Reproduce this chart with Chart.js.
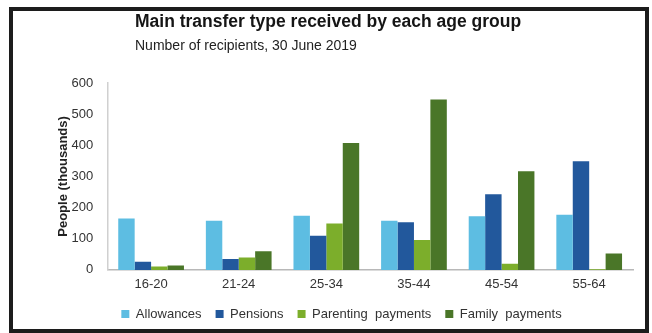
<!DOCTYPE html>
<html>
<head>
<meta charset="utf-8">
<script src="https://cdn.jsdelivr.net/npm/chart.js@4"></script>
<style>
  body { margin: 0; background: #fff; font-family: 'Liberation Sans', Arial, sans-serif; }
  #frame {
    position: absolute; left: 9px; top: 7px;
    width: 632px; height: 318px;
    border: 4px solid #1c1c1c;
    background: #fff;
  }
  .chart_title { position: absolute; left: 135px; top: 13px; font-size: 17.5px; font-weight: bold; line-height: 1; color: #151515; white-space: nowrap; }
  .chart_subtitle { position: absolute; left: 135px; top: 38px; font-size: 14px; line-height: 1; color: #222; white-space: nowrap; }
</style>
</head>
<body>
<div id="frame"><canvas id="transfer_chart"></canvas></div>
<div class="chart_title">Main transfer type received by each age group</div>
<div class="chart_subtitle">Number of recipients, 30 June 2019</div>
<script>
// age groups on the x axis
const age_groups = ['16-20', '21-24', '25-34', '35-44', '45-54', '55-64'];
// people in thousands
const allowances = [165, 158, 174, 158, 172, 177];
const pensions = [26, 35, 110, 153, 243, 349];
const parenting_payments = [11, 40, 149, 96, 20, 2];
const family_payments = [14, 60, 407, 547, 317, 53];
const y_ticks = [0, 100, 200, 300, 400, 500, 600];

const font_family = "'Liberation Sans', Arial, sans-serif";

// wider gaps between legend items without making the legend box taller
const legend_spacing = {
  id: 'legend_spacing',
  afterInit(chart) {
    const legend = chart.legend;
    const fit = legend.fit;
    const draw = legend.draw;
    legend.fit = function () { fit.call(this); this.height -= 6; };
    legend.draw = function () {
      this.ctx.save();
      this.ctx.translate(0, -6);
      draw.call(this);
      this.ctx.restore();
    };
  }
};

let ctx = document.getElementById('transfer_chart').getContext('2d');
let mychart = new Chart(ctx, {
  type: 'bar',
  data: {
    labels: age_groups,
    datasets: [
      { label: 'Allowances', data: allowances, backgroundColor: '#5dbde2' },
      { label: 'Pensions', data: pensions, backgroundColor: '#22589c' },
      { label: 'Parenting  payments', data: parenting_payments, backgroundColor: '#7cae2b' },
      { label: 'Family  payments', data: family_payments, backgroundColor: '#4a7628' }
    ]
  },
  plugins: [legend_spacing],
  options: {
    responsive: true,
    maintainAspectRatio: false,
    animation: false,
    datasets: { bar: { barPercentage: 1.0, categoryPercentage: 0.75 } },
    layout: { padding: { left: 37, right: 12, top: 72, bottom: -1.5 } },
    plugins: {
      legend: {
        position: 'bottom',
        labels: {
          boxWidth: 8, boxHeight: 8,
          padding: 14,
          color: '#333',
          font: { family: font_family, size: 13 }
        }
      },
      tooltip: { enabled: false }
    },
    scales: {
      x: {
        grid: { display: false, drawTicks: false },
        border: { color: '#b8b8b8', width: 1.5 },
        ticks: { color: '#333', font: { family: font_family, size: 13 }, padding: 7 }
      },
      y: {
        min: 0, max: 600,
        afterBuildTicks: axis => { axis.ticks = y_ticks.map(v => ({ value: v })); },
        grid: { display: false, drawTicks: false },
        border: { color: '#d0d0d0', width: 1.5 },
        title: {
          display: true,
          text: 'People (thousands)',
          color: '#222',
          font: { family: font_family, size: 13, weight: 'bold' },
          padding: { top: 6, bottom: -14 }
        },
        ticks: { color: '#333', font: { family: font_family, size: 13 }, padding: 14 }
      }
    }
  }
});
</script>
</body>
</html>
